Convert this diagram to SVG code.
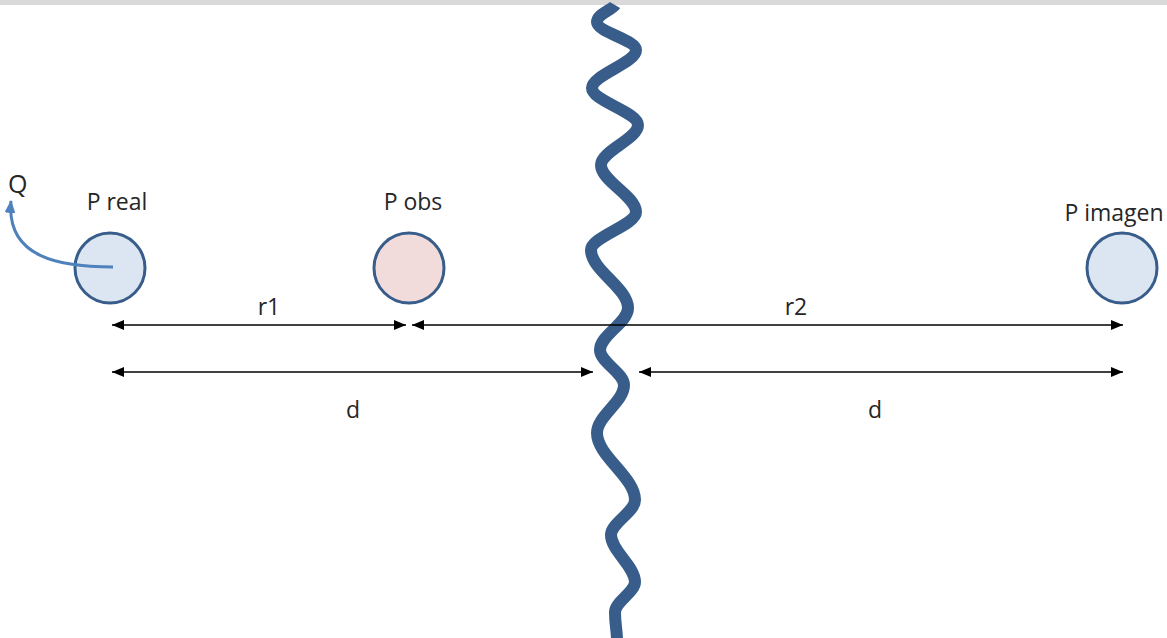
<svg xmlns="http://www.w3.org/2000/svg" width="1167" height="638" viewBox="0 0 1167 638">
<style>
.lbl{font-family:"Open Sans","Liberation Sans",sans-serif;font-size:23px;fill:#262626;}
.node{stroke:#385D8A;stroke-width:3;}
.blue{fill:#DCE6F2;}
.pink{fill:#F2DCDB;}
.dim{stroke:#000;stroke-width:1.6;fill:none;marker-start:url(#ah);marker-end:url(#ah);}
</style>
<defs>
<marker id="ah" viewBox="0 0 12 10" refX="12" refY="5" markerWidth="12" markerHeight="10" markerUnits="userSpaceOnUse" orient="auto-start-reverse">
<path d="M0,0 L12,5 L0,10 Z" fill="#000"/>
</marker>
<marker id="qh" viewBox="0 0 12 10" refX="11" refY="5" markerWidth="13" markerHeight="11" markerUnits="userSpaceOnUse" orient="auto">
<path d="M0,0 L12,5 L0,10 Z" fill="#4F81BD"/>
</marker>
</defs>
<rect x="0" y="0" width="1167" height="638" fill="#fff"/>
<rect x="0" y="0" width="1167" height="5" fill="#D9D9D9"/>
<g id="wall">
<path d="M615,5 C612,10 597,14 597,22 C597,32 636,40 636,50 C636,63 592,75 592,88 C592,101 638,112 638,125 C638,139 601,151 601,165 C601,181 636,196 636,212 C636,225 591,237 591,250 C591,270 628,288 628,308 C628,323 600,335 600,350 C600,362 624,373 624,385 C624,402 597,416 597,433 C597,456 635,477 635,500 C635,512 611,523 611,535 C611,551 635,566 635,582 C635,592 615,602 615,612 C615,625 617,630 617,640" fill="none" stroke="#385D8A" stroke-width="12" stroke-linejoin="round"/>
</g>
<g id="p-real">
<circle class="node blue" cx="110" cy="268" r="35"/>
<text class="lbl" x="117" y="210" text-anchor="middle">P real</text>
</g>
<g id="p-obs">
<circle class="node pink" cx="409" cy="268" r="35"/>
<text class="lbl" x="413" y="210" text-anchor="middle">P obs</text>
</g>
<g id="p-imagen">
<circle class="node blue" cx="1122" cy="268" r="35"/>
<text class="lbl" x="1114" y="221" text-anchor="middle">P imagen</text>
</g>
<g id="q">
<text class="lbl" x="8" y="193" style="font-size:25px">Q</text>
</g>
<g id="connectors">
<path d="M113,267 C60,267 6,258 11,201" fill="none" stroke="#4F81BD" stroke-width="3" marker-end="url(#qh)"/>
<line class="dim" x1="112" y1="325" x2="406" y2="325"/>
<line class="dim" x1="412" y1="325" x2="1123" y2="325"/>
<line class="dim" x1="112" y1="372" x2="593" y2="372"/>
<line class="dim" x1="639" y1="372" x2="1123" y2="372"/>
<text class="lbl" x="269" y="315" text-anchor="middle">r1</text>
<text class="lbl" x="796" y="315" text-anchor="middle">r2</text>
<text class="lbl" x="353" y="418" text-anchor="middle">d</text>
<text class="lbl" x="875" y="418" text-anchor="middle">d</text>
</g>
</svg>
